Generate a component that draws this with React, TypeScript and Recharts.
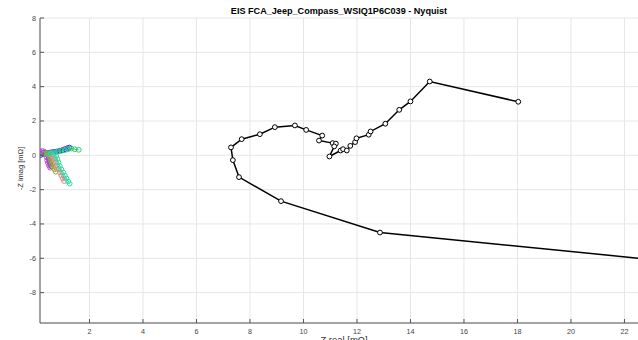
import { Label, CartesianGrid, Scatter, ScatterChart, XAxis, YAxis } from "recharts";

// Nyquist data, Z real / -Z imag in mOhm
const mainRe = [24.5, 12.86, 9.16, 7.59, 7.36, 7.29, 7.69, 8.37, 8.93, 9.68, 10.1, 10.7, 10.58, 11.09, 11.21, 11.15, 10.97, 11.39, 11.48, 11.62, 11.75, 11.93, 11.98, 12.44, 12.51, 13.06, 13.58, 14.0, 14.72, 18.03];
const mainIm = [-6.3, -4.5, -2.67, -1.27, -0.28, 0.46, 0.94, 1.23, 1.64, 1.74, 1.48, 1.15, 0.86, 0.71, 0.68, 0.52, -0.07, 0.28, 0.36, 0.28, 0.55, 0.77, 0.99, 1.2, 1.39, 1.84, 2.65, 3.14, 4.3, 3.12];

const blueRe = [0.18, 0.28, 0.38, 0.48, 0.58, 0.68, 0.78, 0.88, 0.98, 1.08, 1.18, 1.25];
const blueIm = [0.02, 0.08, 0.12, 0.15, 0.18, 0.2, 0.22, 0.26, 0.3, 0.36, 0.42, 0.45];
const magentaRe = [0.16, 0.24, 0.32, 0.38, 0.4, 0.42, 0.45, 0.49, 0.53];
const magentaIm = [0.22, 0.25, 0.2, 0.05, -0.12, -0.3, -0.45, -0.6, -0.72];
const purpleRe = [0.2, 0.3, 0.4, 0.46, 0.48, 0.5, 0.54, 0.58];
const purpleIm = [0.12, 0.15, 0.1, -0.05, -0.2, -0.38, -0.52, -0.65];
const oliveRe = [0.3, 0.42, 0.5, 0.54, 0.57, 0.6, 0.64, 0.69, 0.74];
const oliveIm = [0.1, 0.12, 0.02, -0.15, -0.32, -0.5, -0.66, -0.82, -0.95];
const salmonRe = [0.5, 0.62, 0.68, 0.72, 0.77, 0.83, 0.89, 0.95, 1.0, 1.05];
const salmonIm = [0.05, -0.05, -0.22, -0.4, -0.6, -0.8, -1.0, -1.18, -1.35, -1.5];
const greenRe = [0.4, 0.55, 0.7, 0.82, 0.95, 1.08, 1.2, 1.32, 1.45, 1.6];
const greenIm = [0.08, 0.14, 0.18, 0.22, 0.26, 0.3, 0.36, 0.4, 0.35, 0.32];
const tealRe = [0.55, 0.68, 0.76, 0.8, 0.84, 0.89, 0.95, 1.02, 1.08, 1.14, 1.2, 1.26];
const tealIm = [0.1, 0.08, -0.05, -0.22, -0.42, -0.62, -0.82, -1.0, -1.18, -1.35, -1.52, -1.65];

const xTicks = [2, 4, 6, 8, 10, 12, 14, 16, 18, 20, 22];
const yTicks = [-8, -6, -4, -2, 0, 2, 4, 6, 8];

const toPoints = (re: number[], im: number[]) => re.map((x, i) => ({ x, y: im[i] }));

const cells = [
  { name: "c1", color: "#2a2aff", data: toPoints(blueRe, blueIm) },
  { name: "c2", color: "#d040d0", data: toPoints(magentaRe, magentaIm) },
  { name: "c3", color: "#9050c0", data: toPoints(purpleRe, purpleIm) },
  { name: "c4", color: "#90b030", data: toPoints(oliveRe, oliveIm) },
  { name: "c5", color: "#e08888", data: toPoints(salmonRe, salmonIm) },
  { name: "c6", color: "#30d070", data: toPoints(greenRe, greenIm) },
  { name: "c7", color: "#30dca8", data: toPoints(tealRe, tealIm) },
];
const mainData = toPoints(mainRe, mainIm);

const FONT = '"Liberation Sans", Arial, sans-serif';
const AXIS = "#555";

const XTick = (p: any) => (
  <g>
    <line x1={p.x} y1={p.y} x2={p.x} y2={p.y - 4} stroke={AXIS} />
    <text x={p.x} y={p.y + 10.5} textAnchor="middle" fontSize={7.2} fill="#444" fontFamily={FONT}>
      {p.payload.value}
    </text>
  </g>
);

const YTick = (p: any) => (
  <g>
    <line x1={p.x} y1={p.y} x2={p.x + 4} y2={p.y} stroke={AXIS} />
    <text x={p.x - 4} y={p.y + 2.5} textAnchor="end" fontSize={7.2} fill="#444" fontFamily={FONT}>
      {p.payload.value}
    </text>
  </g>
);

const marker = (color: string, fill: string) => (p: any) =>
  p.cx == null ? <g /> : <circle cx={p.cx} cy={p.cy} r={2.4} fill={fill} stroke={color} strokeWidth={1} />;

export default function App() {
  return (
    <div style={{ position: "fixed", left: 0, top: 0, width: 638, height: 340, overflow: "hidden", background: "#fff" }}>
      <div
        style={{
          position: "absolute",
          left: 0,
          top: 6,
          width: 678,
          textAlign: "center",
          fontFamily: FONT,
          fontWeight: "bold",
          fontSize: 9.1,
          lineHeight: "10px",
          color: "#000",
        }}
      >
        EIS FCA_Jeep_Compass_WSIQ1P6C039 - Nyquist
      </div>
      <ScatterChart width={660} height={340} margin={{ top: 18, right: 12, bottom: 0, left: 0 }}>
        <CartesianGrid stroke="#e6e6e6" strokeWidth={1} />
        <XAxis
          type="number"
          dataKey="x"
          domain={[0.15, 22.88]}
          allowDataOverflow
          ticks={xTicks}
          interval={0}
          height={17}
          tickSize={0}
          tickMargin={0}
          tickLine={false}
          tick={XTick}
          stroke={AXIS}
        >
          <Label
            content={(p: any) => (
              <text
                x={p.viewBox.x + p.viewBox.width / 2}
                y={343}
                textAnchor="middle"
                fontSize={9.5}
                fill="#333"
                fontFamily={FONT}
              >
                Z real [mΩ]
              </text>
            )}
          />
        </XAxis>
        <YAxis
          type="number"
          dataKey="y"
          domain={[-9.77, 8]}
          allowDataOverflow
          ticks={yTicks}
          interval={0}
          width={40}
          tickSize={0}
          tickMargin={0}
          tickLine={false}
          tick={YTick}
          stroke={AXIS}
        >
          <Label
            content={(p: any) => {
              const cy = p.viewBox.y + p.viewBox.height / 2 - 2;
              return (
                <text
                  x={23}
                  y={cy}
                  transform={`rotate(-90 23 ${cy})`}
                  textAnchor="middle"
                  fontSize={7.5}
                  fill="#333"
                  fontFamily={FONT}
                >
                  -Z imag [mΩ]
                </text>
              );
            }}
          />
        </YAxis>
        {cells.map((c) => (
          <Scatter
            key={c.name}
            name={c.name}
            data={c.data}
            line={{ stroke: c.color, strokeWidth: 1 }}
            lineType="joint"
            shape={marker(c.color, "none")}
            isAnimationActive={false}
          />
        ))}
        <Scatter
          name="main"
          data={mainData}
          line={{ stroke: "#000", strokeWidth: 1.5 }}
          lineType="joint"
          shape={marker("#000", "#fff")}
          isAnimationActive={false}
        />
      </ScatterChart>
    </div>
  );
}
